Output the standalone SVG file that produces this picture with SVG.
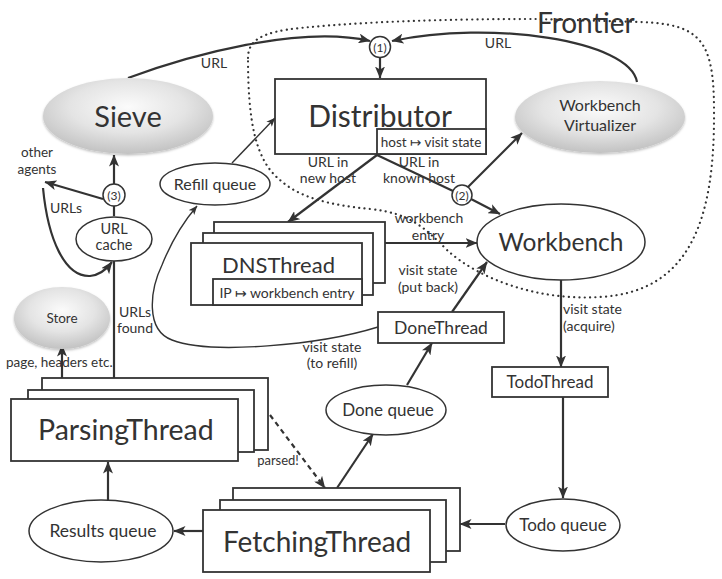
<svg xmlns="http://www.w3.org/2000/svg" width="722" height="579" viewBox="0 0 722 579">
<defs>
<style>
text{font-family:Lato,"Open Sans","DejaVu Sans",sans-serif;fill:#333}
.c{text-anchor:middle}
.ln{fill:none;stroke:#333;stroke-width:2.2}
.thin{fill:none;stroke:#333;stroke-width:1.4}
.box{fill:#fff;stroke:#333;stroke-width:1.8}
.ell{fill:#fff;stroke:#333;stroke-width:1.5}
.gray{fill:url(#gg);filter:url(#sh)}
.lbl{font-size:14px}
</style>
<radialGradient id="gg" cx="50%" cy="38%" r="62%">
<stop offset="0" stop-color="#fbfbfb"/>
<stop offset="0.55" stop-color="#e4e4e4"/>
<stop offset="1" stop-color="#c2c2c2"/>
</radialGradient>
<filter id="sh" x="-10%" y="-10%" width="120%" height="130%">
<feDropShadow dx="0" dy="1.5" stdDeviation="1.2" flood-color="#000" flood-opacity="0.25"/>
</filter>
<marker id="ah" viewBox="0 0 12 10" refX="11.5" refY="5" markerWidth="12" markerHeight="10" orient="auto" markerUnits="userSpaceOnUse">
<path d="M0,0 L12,5 L0,10 L3,5 z" fill="#333"/>
</marker>
<marker id="ahs" viewBox="0 0 12 10" refX="11.5" refY="5" markerWidth="9" markerHeight="8" orient="auto" markerUnits="userSpaceOnUse">
<path d="M0,0 L12,5 L0,10 L3,5 z" fill="#333"/>
</marker>
</defs>
<rect width="722" height="579" fill="#fff"/>

<g id="frontier">
<path d="M248,58 C248,40 262,32 300,28 C380,20 480,19 536,19 L640,22 C700,24 714,40 714,110 C715,220 690,292 600,297 C540,301 480,280 447,250 C425,228 410,213 370,209 C330,205 300,198 280,180 C255,160 248,120 248,58 Z" fill="none" stroke="#333" stroke-width="2.2" stroke-linecap="round" stroke-dasharray="0.1 5.2"/>
<text x="537" y="33" style="font-size:28px">Frontier</text>
</g>

<g id="connectors">
<path class="ln" d="M128,78 C190,55 300,25 370,41" marker-end="url(#ah)"/>
<path class="ln" d="M637,82 C630,40 490,20 392,41" marker-end="url(#ah)"/>
<path class="ln" d="M380,57 L380,78" marker-end="url(#ah)"/>
<path class="thin" d="M232,163 L275,118" marker-end="url(#ahs)"/>
<path class="ln" d="M377,155 L288,222" marker-end="url(#ah)"/>
<path class="ln" d="M377,155 L453,191"/>
<path class="ln" d="M471,199 L500,214" marker-end="url(#ah)"/>
<path class="ln" d="M468,187 L522,133" marker-end="url(#ah)"/>
<path class="ln" d="M385,243 L477,243" marker-end="url(#ah)"/>
<path class="ln" d="M452,312 L487,262" marker-end="url(#ah)"/>
<path class="thin" d="M378,327 C320,345 210,355 172,340 C145,330 150,290 162,265 C172,240 185,220 197,206" marker-end="url(#ahs)"/>
<path class="ln" d="M561,280 L561,367" marker-end="url(#ah)"/>
<path class="ln" d="M563,397 L563,498" marker-end="url(#ah)"/>
<path class="ln" d="M505,524 L460,524" marker-end="url(#ah)"/>
<path class="ln" d="M337,488 L373,434" marker-end="url(#ah)"/>
<path class="ln" d="M407,385 L432,343" marker-end="url(#ah)"/>
<path class="ln" d="M270,415 L325,488" stroke-dasharray="5 4" marker-end="url(#ah)"/>
<path class="ln" d="M108,500 L108,462" marker-end="url(#ah)"/>
<path class="ln" d="M203,531 L174,531" marker-end="url(#ah)"/>
<path class="ln" d="M62,378 L62,345" marker-end="url(#ah)"/>
<path class="ln" d="M114,378 L114,261"/>
<path class="ln" d="M114,216 L114,206"/>
<path class="ln" d="M114,184 L114,155" marker-end="url(#ah)"/>
<path class="ln" d="M103,199 L45,182" marker-end="url(#ah)"/>
<path class="ln" d="M43,188 C48,240 65,277 90,276 C100,275 106,270 112,262" marker-end="url(#ah)"/>
<text class="c lbl" x="214" y="68">URL</text>
<text class="c lbl" x="498" y="48">URL</text>
<text class="c lbl" x="328" y="167">URL in</text>
<text class="c lbl" x="328" y="183">new host</text>
<text class="c lbl" x="419" y="167">URL in</text>
<text class="c lbl" x="419" y="183">known host</text>
<text class="c lbl" x="429" y="223">workbench</text>
<text class="c lbl" x="428" y="240">entry</text>
<text class="c lbl" x="428" y="275">visit state</text>
<text class="c lbl" x="428" y="292">(put back)</text>
<text class="c lbl" x="332" y="352">visit state</text>
<text class="c lbl" x="332" y="368">(to refill)</text>
<text class="lbl" x="563" y="314">visit state</text>
<text class="lbl" x="563" y="331">(acquire)</text>
<text class="c" x="278" y="465" style="font-size:13px">parsed!</text>
<text class="c" x="37" y="157" style="font-size:13.5px">other</text>
<text class="c" x="37" y="174" style="font-size:13.5px">agents</text>
<text class="c lbl" x="66" y="213">URLs</text>
<text class="c lbl" x="135" y="317">URLs</text>
<text class="c lbl" x="135" y="333">found</text>
<text x="6" y="367" style="font-size:13.5px">page, headers etc.</text>
</g>

<g id="sieve">
<ellipse class="gray" cx="128" cy="116" rx="85" ry="38"/>
<text class="c" x="128" y="127" style="font-size:29px">Sieve</text>
</g>

<g id="c1">
<circle class="ell" cx="380" cy="47" r="10.5"/>
<text class="c" x="380" y="51.5" style="font-size:12px">(1)</text>
</g>

<g id="distributor">
<rect class="box" x="275" y="79" width="211" height="75"/>
<text class="c" x="380" y="127" style="font-size:30px">Distributor</text>
<rect class="box" x="377" y="129" width="109" height="25" stroke-width="1.5"/>
<text class="c" x="431" y="147" style="font-size:13.5px">host ↦ visit state</text>
</g>

<g id="virtualizer">
<ellipse class="gray" cx="600" cy="117" rx="85" ry="36"/>
<text class="c" x="600" y="111" style="font-size:16px">Workbench</text>
<text class="c" x="600" y="131" style="font-size:16px">Virtualizer</text>
</g>

<g id="refill">
<ellipse class="ell" cx="215" cy="184" rx="55" ry="21"/>
<text class="c" x="215" y="190" style="font-size:16px">Refill queue</text>
</g>

<g id="c2">
<circle class="ell" cx="462" cy="195" r="10"/>
<text class="c" x="462" y="199.5" style="font-size:12px">(2)</text>
</g>

<g id="workbench">
<ellipse class="ell" cx="561" cy="242" rx="84" ry="38"/>
<text class="c" x="561" y="251" style="font-size:24.5px">Workbench</text>
</g>

<g id="dnsthread">
<rect class="box" x="214" y="222" width="171" height="61"/>
<rect class="box" x="203" y="233" width="170" height="62"/>
<rect class="box" x="191" y="243" width="171" height="62"/>
<text x="222" y="273" style="font-size:22px">DNSThread</text>
<rect class="box" x="213" y="279" width="149" height="26" stroke-width="1.5"/>
<text class="c" x="287" y="298" style="font-size:14px">IP ↦ workbench entry</text>
</g>

<g id="donethread">
<rect class="box" x="378" y="312" width="126" height="31"/>
<text class="c" x="441" y="334" style="font-size:17.5px">DoneThread</text>
</g>

<g id="todothread">
<rect class="box" x="492" y="367" width="116" height="30"/>
<text class="c" x="550" y="388" style="font-size:17px">TodoThread</text>
</g>

<g id="donequeue">
<ellipse class="ell" cx="386" cy="410" rx="60" ry="25"/>
<text class="c" x="388" y="416" style="font-size:17px">Done queue</text>
</g>

<g id="todoqueue">
<ellipse class="ell" cx="563" cy="525" rx="57" ry="26"/>
<text class="c" x="563" y="531" style="font-size:17px">Todo queue</text>
</g>

<g id="c3">
<circle class="ell" cx="114" cy="195" r="11"/>
<text class="c" x="114" y="199.5" style="font-size:12px">(3)</text>
</g>

<g id="urlcache">
<ellipse class="ell" cx="114" cy="239" rx="38" ry="22"/>
<text class="c" x="114" y="234" style="font-size:14.5px">URL</text>
<text class="c" x="114" y="250" style="font-size:14.5px">cache</text>
</g>

<g id="store">
<ellipse class="gray" cx="62" cy="318" rx="48" ry="31"/>
<text class="c" x="62" y="323" style="font-size:13.5px">Store</text>
</g>

<g id="parsingthread">
<rect class="box" x="42" y="378" width="226" height="72"/>
<rect class="box" x="28" y="390" width="226" height="62"/>
<rect class="box" x="11" y="399" width="227" height="62"/>
<text x="38" y="440" style="font-size:28.5px">ParsingThread</text>
</g>

<g id="resultsqueue">
<ellipse class="ell" cx="101" cy="531" rx="72" ry="31"/>
<text class="c" x="103" y="537" style="font-size:17.5px">Results queue</text>
</g>

<g id="fetchingthread">
<rect class="box" x="233" y="488" width="227" height="63"/>
<rect class="box" x="220" y="500" width="226" height="62"/>
<rect class="box" x="203" y="510" width="227" height="62"/>
<text x="223" y="552" style="font-size:28px">FetchingThread</text>
</g>
</svg>
